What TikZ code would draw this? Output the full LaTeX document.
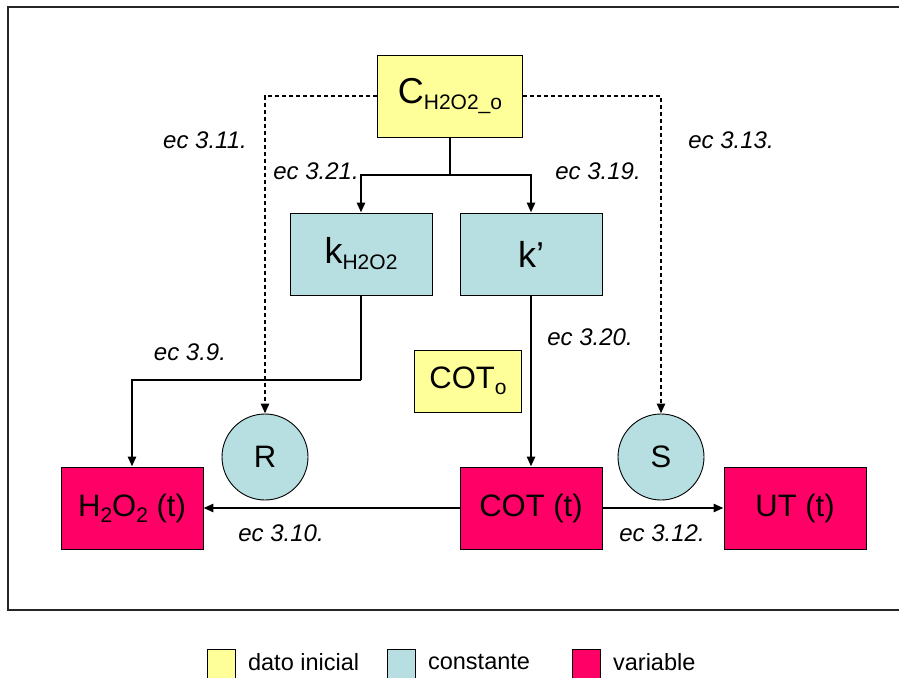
\documentclass[tikz,border=0pt]{standalone}
\usepackage{fontspec}
\setmainfont{Liberation Sans}
\usetikzlibrary{arrows.meta,positioning}
\definecolor{datoyellow}{RGB}{255,255,153}
\definecolor{constcyan}{RGB}{183,222,224}
\definecolor{varmagenta}{RGB}{255,0,102}
\newcommand{\lowsub}[1]{\raisebox{-6pt}{\fontsize{21}{21}\selectfont #1}}

\begin{document}
\begin{tikzpicture}[x=1pt, y=-1pt, every node/.style={align=center, inner sep=0pt},
  box/.style={draw, line width=0.9pt, minimum width=142pt, minimum height=82pt},
  datobox/.style={box, fill=datoyellow},
  constbox/.style={box, fill=constcyan},
  varbox/.style={box, fill=varmagenta},
  constcirc/.style={draw, circle, line width=0.9pt, fill=constcyan, minimum size=86pt},
  bigtxt/.style={font=\fontsize{36}{42}\selectfont},
  midtxt/.style={font=\fontsize{31}{36}\selectfont},
  eqlabel/.style={font=\fontsize{24}{28}\selectfont\itshape},
  legsq/.style={draw, line width=0.9pt, minimum width=28pt, minimum height=32pt, anchor=north west},
  legtxt/.style={font=\fontsize{23.5}{26}\selectfont, right=12pt of #1, yshift=3pt},
  conn/.style={line width=2.6pt, -{Triangle[length=10pt, width=8pt]}},
  dconn/.style={conn, dash pattern=on 4.5pt off 2.5pt}]
\useasboundingbox (0,0) rectangle (899,677);
% frame, open on the right
\draw[line width=1.6pt, black!85] (899,7) -- (8,7) -- (8,610) -- (899,610);

% nodes
\node[datobox, bigtxt, minimum width=145pt] (c0) at (450,96) {C\lowsub{H2O2\_o}};
\node[constbox, bigtxt] (kh) at (361,254) {k\lowsub{H2O2}};
\node[constbox, bigtxt] (kp) at (531,254) {k’};
\node[datobox, midtxt, minimum width=107pt, minimum height=62pt] (cot0) at (468,381) {COT\lowsub{o}};
\node[constcirc, midtxt] (r) at (265,457) {R};
\node[constcirc, midtxt] (s) at (661,457) {S};
\node[varbox, midtxt] (h2o2) at (132,508) {H\lowsub{2}O\lowsub{2} (t)};
\node[varbox, midtxt] (cot) at (531,508) {COT (t)};
\node[varbox, midtxt] (ut) at (795,508) {UT (t)};

% connectors
\coordinate (split) at (450,175);
\coordinate (bend) at (361,380);
\draw[line width=2.6pt] (c0) -- (split);
\draw[conn] (split) -| (kh);
\draw[conn] (split) -| (kp);
\draw[dconn] (c0) -| (r);
\draw[dconn] (c0) -| (s);
\draw[line width=2.6pt] (kh) -- (bend);
\draw[conn] (bend) -| (h2o2);
\draw[conn] (kp) -- (cot);
\draw[conn] (cot) -- (h2o2);
\draw[conn] (cot) -- (ut);

% equation labels
\node[eqlabel] (e311) at (205,140) {ec 3.11.};
\node[eqlabel] (e321) at (316,171) {ec 3.21.};
\node[eqlabel] (e319) at (598,171) {ec 3.19.};
\node[eqlabel] (e313) at (731,140) {ec 3.13.};
\node[eqlabel] (e39) at (190,352) {ec 3.9.};
\node[eqlabel] (e320) at (590,337) {ec 3.20.};
\node[eqlabel] (e310) at (281,533) {ec 3.10.};
\node[eqlabel] (e312) at (662,533) {ec 3.12.};

% legend
\node[legsq, fill=datoyellow] (ldato) at (207,649) {};
\node[legtxt=ldato] (tdato) {dato inicial};
\node[legsq, fill=constcyan] (lconst) at (387,649) {};
\node[legtxt=lconst] (tconst) {constante};
\node[legsq, fill=varmagenta] (lvar) at (572,649) {};
\node[legtxt=lvar] (tvar) {variable};
\end{tikzpicture}
\end{document}
